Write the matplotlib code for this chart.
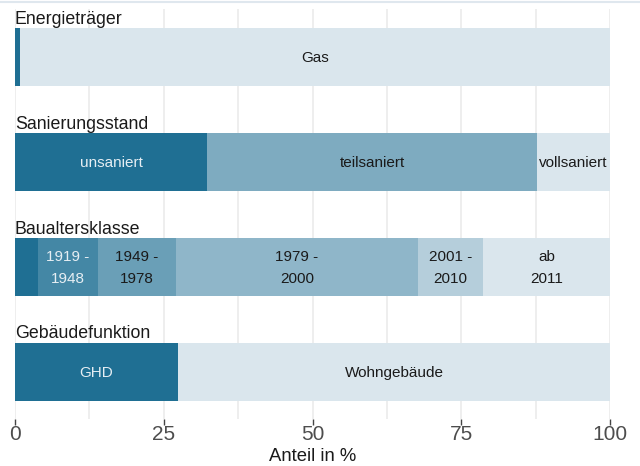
import matplotlib
matplotlib.use("Agg")
import matplotlib.pyplot as plt
from matplotlib.lines import Line2D

plt.rcParams["font.family"] = ["Liberation Sans", "DejaVu Sans"]

# Shares (in %) per building attribute
groups = ["Energieträger", "Sanierungsstand", "Baualtersklasse", "Gebäudefunktion"]

energie_labels = ["", "Gas"]
energie_values = [0.8, 99.2]

sanierung_labels = ["unsaniert", "teilsaniert", "vollsaniert"]
sanierung_values = [32.3, 55.4, 12.3]

baualter_labels = ["", "1919 -\n1948", "1949 -\n1978", "1979 -\n2000", "2001 -\n2010", "ab\n2011"]
baualter_values = [3.9, 10.0, 13.2, 40.6, 11.0, 21.3]

funktion_labels = ["GHD", "Wohngebäude"]
funktion_values = [27.4, 72.6]

x_ticks = [0, 25, 50, 75, 100]
x_label = "Anteil in %"

DARK = "#1f6f93"
LIGHT = "#dae6ed"
palettes = [
    [DARK, LIGHT],
    [DARK, "#7eabc0", LIGHT],
    [DARK, "#4487a5", "#6a9fb7", "#8fb6c9", "#b5cedb", LIGHT],
    [DARK, LIGHT],
]
# segments with a dark fill get light text
light_text = [
    [True, False],
    [True, False, False],
    [True, True, False, False, False, False],
    [True, False],
]

all_labels = [energie_labels, sanierung_labels, baualter_labels, funktion_labels]
all_values = [energie_values, sanierung_values, baualter_values, funktion_values]

fig = plt.figure(figsize=(6.4, 4.66), dpi=100)
ax = fig.add_axes([15 / 640, 47 / 466, 595 / 640, 410 / 466])

bar_h = 0.55
for i, (name, labels, values, cols, lt) in enumerate(
        zip(groups, all_labels, all_values, palettes, light_text)):
    left = 0.0
    for lab, val, col, is_light in zip(labels, values, cols, lt):
        ax.barh(i, val, left=left, height=bar_h, color=col,
                edgecolor="none", zorder=2)
        if lab:
            ax.text(left + val / 2, i + 0.01, lab, ha="center", va="center",
                    fontsize=11, linespacing=1.65,
                    color="#e6eef3" if is_light else "#1a1a1a", zorder=3)
        left += val
    ax.text(0, i - bar_h / 2 - 0.005, name, ha="left", va="bottom",
            fontsize=12.8, color="#1a1a1a", zorder=3)

ax.set_xlim(0, 100)
ax.set_ylim(3.45, -0.46)
ax.set_xticks(x_ticks)
ax.set_xticks([12.5, 37.5, 62.5, 87.5], minor=True)
ax.set_yticks([])
ax.grid(axis="x", which="both", color="#ebebeb", linewidth=1.2, zorder=0)
ax.tick_params(axis="x", which="major", length=4, width=1, color="#444444",
               labelsize=15, labelcolor="#4d4d4d", pad=0)
ax.tick_params(axis="x", which="minor", length=0)
for s in ax.spines.values():
    s.set_visible(False)
ax.set_xlabel(x_label, fontsize=13.3, color="#1a1a1a", labelpad=3)

fig.add_artist(Line2D([0, 1], [1 - 1.5 / 466] * 2, color="#dfe7ee", linewidth=1.5))

fig.savefig("out.png", dpi=100)
